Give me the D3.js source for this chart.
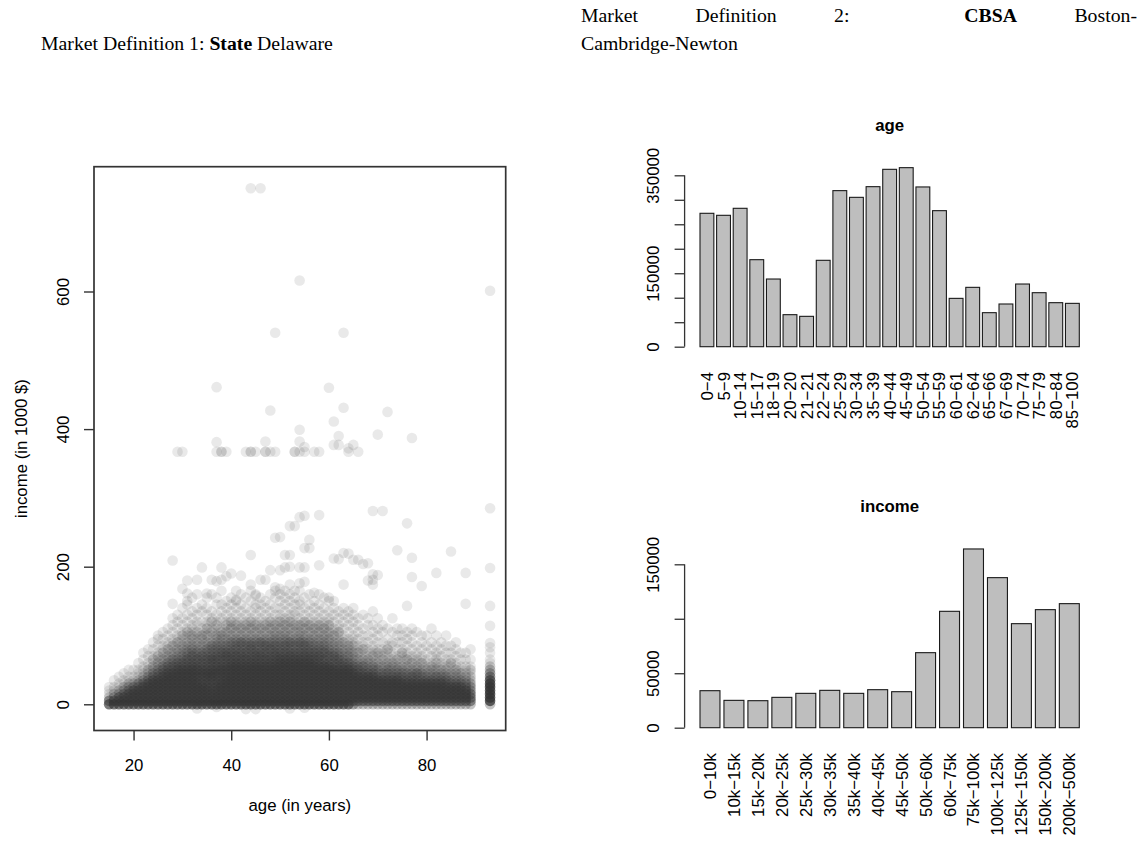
<!DOCTYPE html>
<html><head><meta charset="utf-8">
<script src="https://cdn.jsdelivr.net/npm/d3@7"></script>
<style>
body{margin:0;background:#fff}
svg text{font-family:"Liberation Sans",Arial,sans-serif;fill:#000}
</style>
</head><body>
<svg id="chart" width="1145" height="842"></svg>
<script>
// ---------------- DATA ----------------
const ageGroups = ["0\u22124","5\u22129","10\u221214","15\u221217","18\u221219","20\u221220","21\u221221","22\u221224","25\u221229","30\u221234","35\u221239","40\u221244","45\u221249","50\u221254","55\u221259","60\u221261","62\u221264","65\u221266","67\u221269","70\u221274","75\u221279","80\u221284","85\u2212100"];
const ageCounts = [272400,268300,282600,177700,138200,65400,62000,176400,318700,305000,326800,362200,365600,326200,277800,98700,121200,69500,87200,128000,110300,89900,88500];
const ageYTicks = [0,50000,100000,150000,200000,250000,300000,350000];
const ageYLabels = ["0","","","150000","","","","350000"];

const incomeGroups = ["0\u221210k","10k\u221215k","15k\u221220k","20k\u221225k","25k\u221230k","30k\u221235k","35k\u221240k","40k\u221245k","45k\u221250k","50k\u221260k","60k\u221275k","75k\u2212100k","100k\u2212125k","125k\u2212150k","150k\u2212200k","200k\u2212500k"];
const incomeCounts = [33980,25100,24800,27860,31530,34290,31530,34900,33060,68880,106840,164080,137750,95510,108370,113880];
const incomeYTicks = [0,50000,100000,150000];
const incomeYLabels = ["0","50000","","150000"];

// scatter: stacked record counts (base-36 digit) per age column and income level (1000 $)
const scatterAges = [15,16,17,18,19,20,21,22,23,24,25,26,27,28,29,30,31,32,33,34,35,36,37,38,39,40,41,42,43,44,45,46,47,48,49,50,51,52,53,54,55,56,57,58,59,60,61,62,63,64,65,66,67,68,69,70,71,72,73,74,75,76,77,78,79,80,81,82,83,84,85,86,87,88,89,93];
const scatterIncomeLevels = [0,5,10,15,20,25,30,35,40,45,50,55,60,65,70,75,80,85,90,95,100,105,110,115,120,125,130,135,140,145,150,155,160,165,170];
const scatterCounts = [
"96211 10000",
"96321 10100",
"96632 11010",
"96643 21101",
"96664 32110 10000",
"96666 42110 10000",
"96666 44211 10100",
"96666 64321 11010 10000",
"96666 66432 21101 01000",
"96666 66643 22121 01010",
"96666 66644 32212 10101 10000",
"96666 66664 43221 21101 01000",
"96666 66666 44322 12110 10100",
"96666 66666 44332 21211 01010 10000",
"96666 66666 64432 22121 10101 01000",
"96666 66666 64433 22211 21010 10010",
"96666 66666 64443 32221 12101 01001 10000",
"96666 66666 65434 33212 21110 10100 01000",
"96666 66565 64443 32221 12011 01010 00100",
"96666 65456 54434 32212 21101 00101",
"96666 65566 54443 33221 21211 01010 01000",
"96665 54566 64454 33321 12102 10100 00100",
"96666 65556 55444 33322 21121 01001 01000",
"96666 66556 65444 43322 22101 10101 00010",
"96666 66665 65445 43322 12121 01010 10000",
"96666 66666 66544 43332 21212 10101 01000",
"96666 66666 66545 34332 12121 01010 10010",
"96666 66666 66544 43342 21211 10101 00100",
"96666 66666 66454 43332 12121 01010 01000",
"96666 66666 66544 34432 21212 10100 10010",
"96666 66666 66545 43332 12121 01011 00100",
"96666 66666 66544 43342 21211 10101 01000",
"96666 66666 66454 43432 12121 01010 10000",
"96666 66666 66544 34332 21212 10101 00100",
"96666 66666 66545 43432 22121 01010 01010",
"96666 66666 66654 43332 21212 11010 10100",
"96666 66666 66654 43432 22121 10101 01010",
"96666 66666 66645 43342 21212 11010 10100",
"96666 66666 66654 43332 12121 01101 01000",
"96666 66666 66654 43342 22121 10101 10010",
"96666 66666 66645 43432 21212 01010 01000",
"96666 66666 66654 43332 12121 10101 00100",
"96666 66666 66544 43322 21211 01010 10000",
"96666 66666 66445 33322 12121 10101 00100",
"96666 66666 66443 43322 21211 01010 01000",
"96666 66666 66434 33222 12121 10100 10000",
"96666 66666 64434 32221 21101 01010 10000",
"96666 66666 64443 32221 12110 10100",
"96666 66666 64432 22121 10101 01010",
"96666 66666 64423 22211 01010 10100",
"56666 66666 44322 21211 10101 01010",
"36666 66664 43221 21101 01010 10000",
"36666 66664 34221 12110 10100 01000",
"36666 66664 32221 11010 10010 10000",
"36666 66664 33212 11101 01010 00100",
"36666 66643 32211 21010 10100 10000",
"36666 66643 22121 11010 01010",
"36666 66634 32211 12101 00100",
"36666 66643 22211 10110 01000 10000",
"36666 66643 32121 01010 10100",
"36666 66443 22111 21010 10100",
"36666 66433 22121 10101 01000",
"36666 66443 21211 01010 10100",
"36666 66434 22111 10100 01000",
"36666 66433 21211 01010 10000",
"36666 66432 21110 10100 10000",
"36666 66432 22101 01010 00100",
"36666 66342 21211 10100 10000",
"36666 66432 21101 01010",
"36666 64432 21110 10100 10000",
"36666 64322 11210 10100",
"36666 64322 21101 01010",
"36666 64322 11010 10000",
"36666 43221 11010 10000",
"36664 43221 21010 01000",
"3cccc cc964 32110 10000"
];
// individual sparse records [age, income in 1000 $]
const scatterOutliers = [
[44,750],[46,750],[54,616],[93,601],
[49,540],[63,540],[37,461],[60,460],[48,427],[63,431],[72,425],[61,411],[54,399],[70,392],[62,390],[77,387],
[37,381],[47,382],[54,382],[61,377],[62,377],[65,377],[55,374],[64,372],
[29,367],[30,367],[37,367],[38,367],[38,367],[39,367],[43,367],[44,367],[44,367],[45,367],[47,367],[47,367],[48,367],[49,367],[53,367],[53,367],[54,367],[55,367],[57,367],[58,367],[64,367],[66,367],
[93,285],[69,281],[71,281],[58,275],[55,274],[54,272],[52,259],[76,263],[53,259],[50,243],[56,239],[49,242],[55,227],[56,227],[74,224],[85,222],[44,217],[51,217],[52,217],[64,219],[63,220],[77,213],[61,212],[62,211],[28,209],[66,210],[65,210],[68,205],[67,204],[58,202],[52,200],[54,199],[55,199],[34,199],[38,199],[51,199],[93,198],[48,195],[50,195],[82,191],[88,191],[40,190],[69,189],[42,187],[77,185],[70,188],
[30,168],[31,180],[33,181],[36,181],[38,181],[37,179],[39,186],[46,181],[47,181],[44,174],[52,174],[54,176],[55,178],[63,174],[69,174],[68,180],[69,181],[79,172],[31,161],[35,161],[49,170],[50,168],[53,165],[57,162],[45,158],[60,155],[41,152],
[93,143],[28,146],[76,143],[88,146],[93,114],[93,89],[93,83],
[33,-6],[43,-7],[45,-7],[52,-6],[55,-5],[37,-4]
];
const scatterXTicks = [20,40,60,80];
const scatterYTicks = [0,200,400,600];

// ---------------- DRAW ----------------
const svg = d3.select("#chart");
const FS = 16.8;
const AXC = "#333";

// Titles (serif, LaTeX-like)
const serif = '"Liberation Serif","Times New Roman",serif';
const t1 = svg.append("text").attr("x",41).attr("y",50)
  .style("font-family",serif).style("font-size","19.5px");
t1.append("tspan").text("Market Definition 1: ");
t1.append("tspan").style("font-weight","bold").text("State");
t1.append("tspan").text(" Delaware");
const w1 = t1.node().getComputedTextLength();
const titleFS = 19.5*292/w1;
t1.style("font-size",titleFS+"px");

const rWords = [["Market",false],["Definition",false],["2:",false],["CBSA",true],["Boston-",false]];
const gapWeights = [1,1,2,1];
const rx0 = 581, rx1 = 1137;
const wEls = rWords.map(([w,b]) => svg.append("text").attr("y",22)
  .style("font-family",serif).style("font-size",titleFS+"px")
  .style("font-weight", b ? "bold" : "normal").text(w));
const widths = wEls.map(e => e.node().getComputedTextLength());
const unit = (rx1 - rx0 - d3.sum(widths)) / d3.sum(gapWeights);
let cx = rx0;
wEls.forEach((e,i) => { e.attr("x",cx); cx += widths[i] + (i < gapWeights.length ? gapWeights[i]*unit : 0); });
svg.append("text").attr("x",581).attr("y",50)
  .style("font-family",serif).style("font-size",titleFS+"px").text("Cambridge-Newton");

// ---- Scatter ----
const sx = d3.scaleLinear().domain([11.9, 96.2]).range([94, 505.7]);
const sy = d3.scaleLinear().domain([-38.1, 781.4]).range([730.5, 166.7]);
const gS = svg.append("g");
const alpha = 0.11, rad = 5.3;
scatterCounts.forEach((row, i) => {
  const digits = row.replace(/ /g, "");
  for (let j = 0; j < digits.length; j++) {
    const c = parseInt(digits[j], 36);
    if (c > 0) {
      gS.append("circle").attr("cx", sx(scatterAges[i])).attr("cy", sy(scatterIncomeLevels[j]))
        .attr("r", rad).attr("fill", "#333").attr("fill-opacity", 1 - Math.pow(1 - alpha, c));
    }
  }
});
gS.selectAll("circle.o").data(scatterOutliers).enter().append("circle").attr("class","o")
  .attr("cx", d => sx(d[0])).attr("cy", d => sy(d[1])).attr("r", rad)
  .attr("fill", "#333").attr("fill-opacity", alpha);

svg.append("rect").attr("x",94).attr("y",166.7).attr("width",505.7-94).attr("height",730.5-166.7)
  .attr("fill","none").attr("stroke",AXC).attr("stroke-width",1.7);

const xAx = svg.append("g").attr("transform","translate(0,730.5)")
  .call(d3.axisBottom(sx).tickValues(scatterXTicks).tickSize(10).tickFormat(d3.format("d")));
xAx.select(".domain").remove();
xAx.selectAll("line").attr("stroke",AXC).attr("stroke-width",1.4);
xAx.selectAll("text").style("font-size",FS+"px").attr("dy",null).attr("y",40.3);

const yAx = svg.append("g").attr("transform","translate(94,0)")
  .call(d3.axisLeft(sy).tickValues(scatterYTicks).tickSize(10).tickFormat(d3.format("d")));
yAx.select(".domain").remove();
yAx.selectAll("line").attr("stroke",AXC).attr("stroke-width",1.4);
yAx.selectAll("text").attr("x",null).attr("dy",null)
  .attr("transform","translate(-25,0) rotate(-90)").attr("text-anchor","middle").style("font-size",FS+"px");

svg.append("text").attr("x",(94+505.7)/2).attr("y",811).attr("text-anchor","middle")
  .style("font-size",FS+"px").text("age (in years)");
svg.append("text").attr("transform","translate(26.5,448.6) rotate(-90)").attr("text-anchor","middle")
  .style("font-size",FS+"px").text("income (in 1000 $)");

// ---- Bar charts ----
function barChart(cfg) {
  const g = svg.append("g");
  const bx = d3.scaleBand().domain(cfg.groups).range([700, 1079.3]).paddingInner(1/6).paddingOuter(0);
  const by = d3.scaleLinear().domain([0, cfg.tickMax]).range([cfg.y0, cfg.yTop]);
  g.selectAll("rect").data(cfg.values).enter().append("rect")
    .attr("x",(d,i)=>bx(cfg.groups[i])).attr("width",bx.bandwidth())
    .attr("y",d=>by(d)).attr("height",d=>by(0)-by(d))
    .attr("fill","#bebebe").attr("stroke","#1a1a1a").attr("stroke-width",1.1);
  const ax = g.append("g").attr("transform","translate(684.6,0)")
    .call(d3.axisLeft(by).tickValues(cfg.ticks).tickSize(10).tickSizeOuter(0)
      .tickFormat((d,i)=>cfg.tickLabels[i]));
  ax.select(".domain").attr("stroke",AXC).attr("stroke-width",1.3).attr("d",`M0,${by(0)}V${by(cfg.tickMax)}`);
  ax.selectAll("line").attr("stroke",AXC).attr("stroke-width",1.3);
  ax.selectAll("text").attr("x",null).attr("dy",null)
    .attr("transform","translate(-25.6,0) rotate(-90)").attr("text-anchor","middle").style("font-size",FS+"px");
  g.selectAll("text.xl").data(cfg.groups).enter().append("text").attr("class","xl")
    .attr("transform",d=>`translate(${bx(d)+bx.bandwidth()/2+6},${cfg.labelTop}) rotate(-90)`)
    .attr("text-anchor","end").style("font-size",FS+"px").text(d=>d);
  g.append("text").attr("x",(700+1079.3)/2).attr("y",cfg.titleY).attr("text-anchor","middle")
    .style("font-size",FS+"px").style("font-weight","bold").text(cfg.title);
}
barChart({groups:ageGroups, values:ageCounts, ticks:ageYTicks, tickLabels:ageYLabels, tickMax:350000,
  y0:346.7, yTop:175.3, labelTop:372, titleY:130.5, title:"age"});
barChart({groups:incomeGroups, values:incomeCounts, ticks:incomeYTicks, tickLabels:incomeYLabels, tickMax:150000,
  y0:727.7, yTop:564.3, labelTop:753, titleY:511.5, title:"income"});
</script>
</body></html>
